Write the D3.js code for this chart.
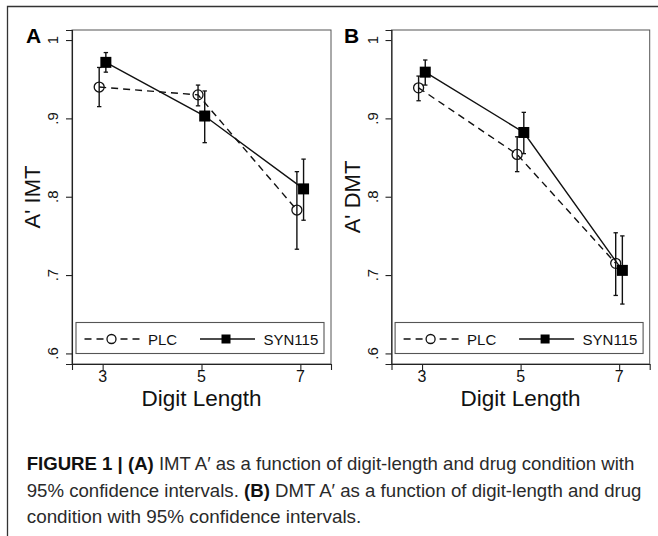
<!DOCTYPE html>
<html>
<head>
<meta charset="utf-8">
<script src="https://cdn.jsdelivr.net/npm/d3@7"></script>
<style>
  html, body { margin: 0; padding: 0; background: #fff; }
  svg { display: block; }
  text { font-family: "Liberation Sans", Arial, Helvetica, sans-serif; }
</style>
</head>
<body>
<svg id="chart" width="658" height="536"></svg>
<script>
// ---------- data ----------
const digitLengths = [3, 5, 7];
const xTicks = [3, 5, 7];
const yTicks = [0.6, 0.7, 0.8, 0.9, 1.0];
const yTickLabels = [".6", ".7", ".8", ".9", "1"];
const seriesNames = ["PLC", "SYN115"];
const panelLabels = ["A", "B"];
const yTitles = ["A' IMT", "A' DMT"];
const xTitle = "Digit Length";

// Panel A (IMT)
const imtPLC    = [0.940, 0.930, 0.783];
const imtPLCLo  = [0.915, 0.916, 0.733];
const imtPLCHi  = [0.965, 0.9425, 0.832];
const imtSYN    = [0.9715, 0.903, 0.810];
const imtSYNLo  = [0.959, 0.869, 0.770];
const imtSYNHi  = [0.984, 0.935, 0.848];

// Panel B (DMT)
const dmtPLC    = [0.939, 0.854, 0.715];
const dmtPLCLo  = [0.9225, 0.832, 0.674];
const dmtPLCHi  = [0.954, 0.8765, 0.754];
const dmtSYN    = [0.959, 0.882, 0.706];
const dmtSYNLo  = [0.9425, 0.855, 0.663];
const dmtSYNHi  = [0.9745, 0.9077, 0.750];

const captionLines = [
  [["FIGURE 1 | (A)", true], [" IMT A\u2032 as a function of digit-length and drug condition with", false]],
  [["95% confidence intervals. ", false], ["(B)", true], [" DMT A\u2032 as a function of digit-length and drug", false]],
  [["condition with 95% confidence intervals.", false]]
];

// ---------- layout ----------
const svg = d3.select("#chart");
const panels = [
  { left: 72, right: 331, top: 30, bottom: 364, labelX: 26,
    plc: imtPLC, plcLo: imtPLCLo, plcHi: imtPLCHi, syn: imtSYN, synLo: imtSYNLo, synHi: imtSYNHi },
  { left: 391.5, right: 649.7, top: 30, bottom: 364, labelX: 344,
    plc: dmtPLC, plcLo: dmtPLCLo, plcHi: dmtPLCHi, syn: dmtSYN, synLo: dmtSYNLo, synHi: dmtSYNHi }
];
const plcOffset = -0.07, synOffset = 0.065;

// outer frame (top + left lines)
svg.append("path")
  .attr("d", "M7.5,536 L7.5,6.5 L658,6.5")
  .attr("fill", "none").attr("stroke", "#333").attr("stroke-width", 1.3);

panels.forEach((p, pi) => {
  const g = svg.append("g");
  const x = d3.scaleLinear().domain([2.38, 7.62]).range([p.left, p.right]);
  const y = d3.scaleLinear().domain([0.5865, 1.0128]).range([p.bottom, p.top]);

  // plot region box
  g.append("rect")
    .attr("x", p.left).attr("y", p.top)
    .attr("width", p.right - p.left).attr("height", p.bottom - p.top)
    .attr("fill", "#fff").attr("stroke", "#555").attr("stroke-width", 1);

  // y axis
  const yAxis = d3.axisLeft(y).tickValues(yTicks).tickSize(6).tickFormat("");
  const ya = g.append("g").attr("transform", `translate(${p.left},0)`).call(yAxis);
  ya.select(".domain").attr("stroke", "#222").attr("stroke-width", 1.1);
  ya.selectAll(".tick line").attr("stroke", "#222").attr("stroke-width", 1.1);
  yTicks.forEach((v, i) => {
    g.append("text")
      .attr("transform", `translate(${p.left - 14},${y(v)}) rotate(-90)`)
      .attr("text-anchor", "middle")
      .attr("font-size", 15).attr("fill", "#111")
      .text(yTickLabels[i]);
  });

  // x axis
  const xAxis = d3.axisBottom(x).tickValues(xTicks).tickSize(6).tickFormat("");
  const xa = g.append("g").attr("transform", `translate(0,${p.bottom})`).call(xAxis);
  xa.select(".domain").attr("stroke", "#222").attr("stroke-width", 1.1);
  xa.selectAll(".tick line").attr("stroke", "#222").attr("stroke-width", 1.1);
  xTicks.forEach(v => {
    g.append("text")
      .attr("x", x(v)).attr("y", 381.5)
      .attr("text-anchor", "middle")
      .attr("font-size", 16).attr("fill", "#111")
      .text(v);
  });

  // axis titles
  g.append("text")
    .attr("x", (p.left + p.right) / 2).attr("y", 406)
    .attr("text-anchor", "middle").attr("font-size", 22.5).attr("fill", "#111")
    .text(xTitle);
  g.append("text")
    .attr("transform", `translate(${p.left - 32},${(p.top + p.bottom) / 2}) rotate(-90)`)
    .attr("text-anchor", "middle").attr("font-size", 22).attr("fill", "#111")
    .text(yTitles[pi]);

  // panel label
  g.append("text")
    .attr("x", p.labelX).attr("y", 43)
    .attr("font-size", 21).attr("font-weight", "bold").attr("fill", "#000")
    .text(panelLabels[pi]);

  // series data
  const plcData = digitLengths.map((d, i) => ({ x: d + plcOffset, v: p.plc[i], lo: p.plcLo[i], hi: p.plcHi[i] }));
  const synData = digitLengths.map((d, i) => ({ x: d + synOffset, v: p.syn[i], lo: p.synLo[i], hi: p.synHi[i] }));
  const line = d3.line().x(d => x(d.x)).y(d => y(d.v));

  g.append("path").datum(plcData).attr("d", line)
    .attr("fill", "none").attr("stroke", "#111").attr("stroke-width", 1.4)
    .attr("stroke-dasharray", "7,5");
  g.append("path").datum(synData).attr("d", line)
    .attr("fill", "none").attr("stroke", "#111").attr("stroke-width", 1.4);

  // error bars
  [plcData, synData].forEach(data => {
    data.forEach(d => {
      const cx = x(d.x);
      g.append("line").attr("x1", cx).attr("x2", cx).attr("y1", y(d.lo)).attr("y2", y(d.hi))
        .attr("stroke", "#111").attr("stroke-width", 1.4);
      [d.lo, d.hi].forEach(c => {
        g.append("line").attr("x1", cx - 2.2).attr("x2", cx + 2.2).attr("y1", y(c)).attr("y2", y(c))
          .attr("stroke", "#111").attr("stroke-width", 1.3);
      });
    });
  });

  // markers
  g.selectAll(null).data(plcData).enter().append("circle")
    .attr("cx", d => x(d.x)).attr("cy", d => y(d.v)).attr("r", 5)
    .attr("fill", "none").attr("stroke", "#111").attr("stroke-width", 1.3);
  g.selectAll(null).data(synData).enter().append("rect")
    .attr("x", d => x(d.x) - 5.5).attr("y", d => y(d.v) - 5.5)
    .attr("width", 11).attr("height", 11).attr("fill", "#000");

  // legend
  const lw = 248, lx = (p.left + p.right) / 2 - lw / 2 - 1.5, ly = 322.5, lh = 31;
  const lg = g.append("g").attr("transform", `translate(${lx},${ly})`);
  lg.append("rect").attr("width", lw).attr("height", lh)
    .attr("fill", "#fff").attr("stroke", "#555").attr("stroke-width", 1.1);
  const my = lh / 2 + 1;
  lg.append("line").attr("x1", 8.5).attr("x2", 64).attr("y1", my).attr("y2", my)
    .attr("stroke", "#111").attr("stroke-width", 1.4).attr("stroke-dasharray", "7,5");
  lg.append("circle").attr("cx", 35.5).attr("cy", my).attr("r", 4.5)
    .attr("fill", "#fff").attr("stroke", "#111").attr("stroke-width", 1.3);
  lg.append("text").attr("x", 72).attr("y", my + 5.5).attr("font-size", 15).attr("fill", "#111")
    .text(seriesNames[0]);
  lg.append("line").attr("x1", 124).attr("x2", 179).attr("y1", my).attr("y2", my)
    .attr("stroke", "#111").attr("stroke-width", 1.4);
  lg.append("rect").attr("x", 150 - 4.5).attr("y", my - 4.5).attr("width", 9).attr("height", 9)
    .attr("fill", "#000");
  lg.append("text").attr("x", 187.5).attr("y", my + 5.5).attr("font-size", 15).attr("fill", "#111")
    .text(seriesNames[1]);
});

// ---------- caption ----------
const capX = 26.7;
const capBaselines = [469.5, 496.5, 523];
const capWidths = [608, 615, 335];
captionLines.forEach((parts, li) => {
  const t = svg.append("text")
    .attr("x", 0).attr("y", 0)
    .attr("font-size", 17.5).attr("fill", "#2a2a2a");
  parts.forEach(([s, b]) => {
    t.append("tspan").attr("font-weight", b ? "bold" : "normal")
      .attr("fill", b ? "#111" : "#2a2a2a")
      .text(s);
  });
  const w = t.node().getComputedTextLength();
  const sx = capWidths[li] / w;
  t.attr("transform", `translate(${capX},${capBaselines[li]}) scale(${sx},1)`);
});
</script>
</body>
</html>
